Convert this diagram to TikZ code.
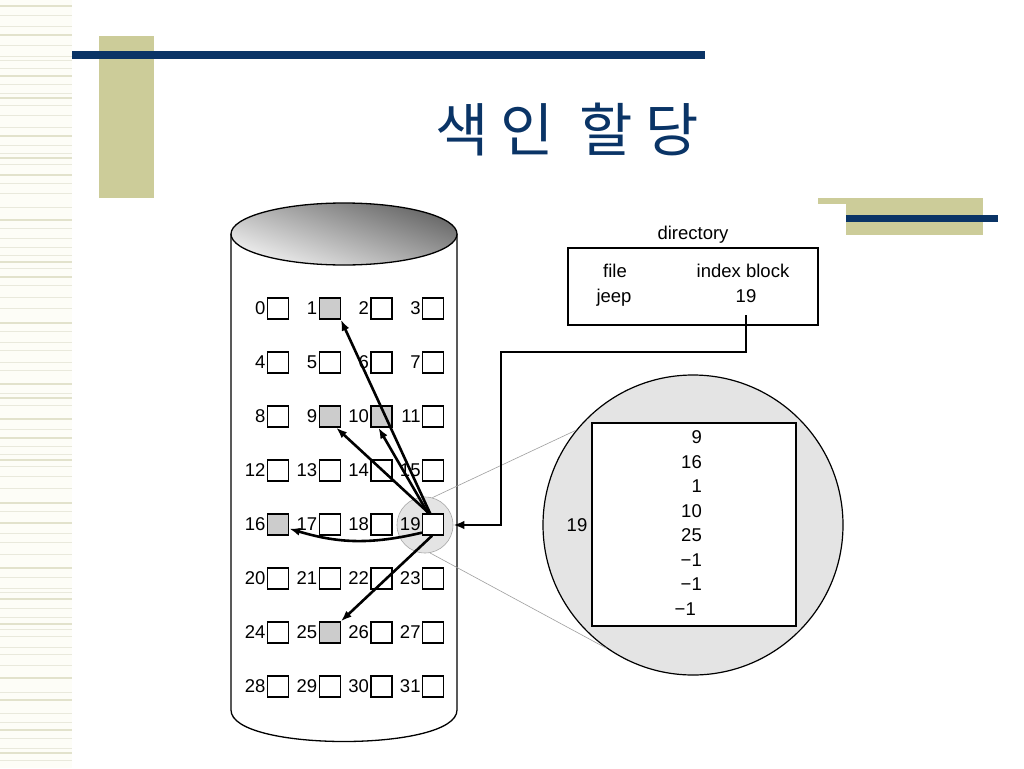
\documentclass[tikz,border=0pt]{standalone}
\usepackage{fontspec}
\setmainfont{Liberation Sans}
\newfontfamily\kr{Noto Sans CJK KR}
\usetikzlibrary{arrows.meta,calc}
\definecolor{navy}{HTML}{0A3466}
\definecolor{tanc}{HTML}{CCCC99}
\definecolor{stripe}{HTML}{E2E2CC}
\definecolor{stripelt}{HTML}{E9E9DC}
\definecolor{stripebg}{HTML}{FDFDF7}
\definecolor{shadebox}{HTML}{CCCCCC}
\definecolor{magfill}{HTML}{E4E4E4}
\begin{document}
\begin{tikzpicture}[x=1pt,y=-1pt,
  blk/.style={draw=black, line width=1.3pt, minimum size=21pt, inner sep=0pt, fill=white},
  lbl/.style={font=\fontsize{18.5}{20}\selectfont, inner sep=1.2pt, anchor=east},
  txt/.style={font=\fontsize{18.5}{20}\selectfont, inner sep=0pt},
  ptr/.style={line width=2.6pt, -{Latex[length=11pt,width=8pt]}},
  conn/.style={line width=2.8pt, -{Latex[length=11pt,width=8.5pt]}},
  thin/.style={draw=gray!75, line width=0.6pt}]
\useasboundingbox (0,0) rectangle (1024,768);
\fill[white] (0,0) rectangle (1024,768);
% left stripe
\fill[stripebg] (0,0) rectangle (72,768);
\foreach \y in {6,35,76,98,136,158,175,220,262,277,323,384,398,419,438,460,503,523,568,599,624,678,700,730,753}
  \fill[stripe] (0,\y-1.3) rectangle (72,\y+1.3);
\foreach \y in {15,26,45,56,60,68,84,93,105,115,127,145,153,164,183,193,207,228,238,247,255,268,285,297,308,331,342,350,362,370,393,405,429,446,454,466,476,488,511,533,542,554,577,588,592,608,617,629,636,647,654,665,692,713,722,738,748,760}
  \draw[stripelt, line width=0.8pt] (0,\y) -- (72,\y);
% decorations
\fill[tanc] (99,36) rectangle (154,198);
\fill[navy] (72,51) rectangle (705,59);
\fill[tanc] (818,198) rectangle (983,204);
\fill[tanc] (846,198) rectangle (983,235);
\fill[navy] (846,215) rectangle (998,222);
% title
\node[anchor=base, inner sep=0pt, text=navy, font=\kr\fontsize{58}{60}\selectfont] (title) at (567,151) {색\hspace{12pt}인\hspace{26pt}할\hspace{12pt}당};
% cylinder
\draw[line width=1.3pt, fill=white] (231,234) -- (231,710) .. controls (231,752) and (457,752) .. (457,710) -- (457,234);
\shade[top color=black!60, bottom color=black!6, shading angle=-20] (344,234) ellipse [x radius=113, y radius=31];
\draw[line width=1.3pt] (344,234) ellipse [x radius=113, y radius=31];
% magnifier
\node[circle, minimum size=56pt, fill=magfill, draw=gray!70, line width=0.6pt, inner sep=0pt] (mag) at (425,525) {};
\node[circle, minimum size=300pt, fill=magfill, draw=black, line width=1.2pt, inner sep=0pt] (big) at (693,525) {};
\draw[thin] (mag.75) -- (big.141);
\draw[thin] (mag.-80) -- (big.-125);
\node[draw=black, line width=1.8pt, fill=white, minimum width=204pt, minimum height=203pt, inner sep=0pt] (idx) at (694,524.5) {};
\foreach \v/\y [count=\k] in {9/437,16/462,1/486,10/511,25/535}
  \node[txt, anchor=east] (e\k) at (702,\y) {\v};
\node[txt, anchor=east] (m1) at (702,560) {−1};
\node[txt, anchor=east] (m2) at (702,584) {−1};
\node[txt, anchor=east] (m3) at (696,609) {−1};
\node[txt] (bl) at (577,525) {19};
% directory
\node[draw=black, line width=1.3pt, minimum width=250pt, minimum height=77pt, inner sep=0pt] (dir) at (693,286.5) {};
\node[txt, anchor=base] (dt) at (693,239) {directory};
\node[txt, anchor=base] (df) at (615,277) {file};
\node[txt, anchor=base] (di) at (743,277) {index block};
\node[txt, anchor=base] (dn) at (614,302) {jeep};
\node[txt, anchor=base] (dj) at (746,302) {19};
% blocks
\foreach \i/\c in {0/white,1/shadebox,2/white,3/white,4/white,5/white,6/white,7/white,
                   8/white,9/shadebox,10/shadebox,11/white,12/white,13/white,14/white,15/white,
                   16/shadebox,17/white,18/white,19/white,20/white,21/white,22/white,23/white,
                   24/white,25/shadebox,26/white,27/white,28/white,29/white,30/white,31/white}{
  \pgfmathtruncatemacro{\row}{div(\i,4)}
  \pgfmathtruncatemacro{\col}{mod(\i,4)}
  \node[blk, fill=\c] (b\i) at (278+51.7*\col, 308.5+54*\row) {};
  \node[lbl] (l\i) at (b\i.west) {\i};
}
% pointers
\draw[ptr] ([xshift=-3pt]b19.north) -- (b1.south east);
\draw[ptr] ([xshift=-4pt]b19.north) -- (b9.-60);
\draw[ptr] ([xshift=-5pt]b19.north) -- (b10.-105);
\draw[ptr] ([yshift=3pt]b19.south west) to[bend left=15] (b16.-20);
\draw[ptr] ([xshift=-1pt]b19.south) -- (b25.north east);
% directory connector
\coordinate (turn) at (501,352);
\draw[conn] ($(dj.south)+(0,13)$) |- (turn) |- (mag.east);
\end{tikzpicture}
\end{document}
